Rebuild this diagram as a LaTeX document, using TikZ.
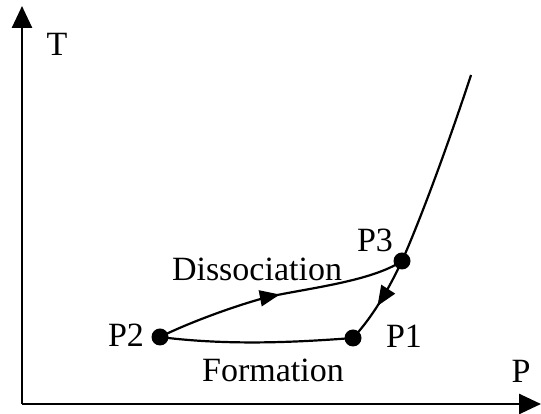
\documentclass[tikz,border=0pt]{standalone}
\usepackage{fontspec}
\setmainfont{Liberation Serif}
\usetikzlibrary{arrows.meta,decorations.markings}

\begin{document}
\begin{tikzpicture}[
    x=1pt,
    y=1pt,
    font=\fontsize{34}{40}\selectfont,
    axis/.style={
        draw,
        line width=2.6pt,
        -{Triangle[length=22pt,width=20pt]}
    },
    path line/.style={
        draw,
        line width=2.2pt
    },
    dot/.style={
        fill,
        circle,
        minimum size=17pt,
        inner sep=0pt
    },
    lbl/.style={
        anchor=base,
        inner sep=0pt
    },
    mid arrow/.style={
        postaction={decorate},
        decoration={
            markings,
            mark=at position #1 with {\arrow{Triangle[length=20pt,width=16pt]}}
        }
    }
]
    \useasboundingbox (0,0) rectangle (541,414);

    % axes
    \coordinate (origin) at (22,10);
    \coordinate (t_end) at (22,408);
    \coordinate (p_end) at (541,10);
    \draw[axis] (origin) -- (t_end);
    \draw[axis] (origin) -- (p_end);
    \node[lbl] (t_lbl) at (57,358) {T};
    \node[lbl] (p_lbl) at (521,31) {P};

    % states
    \node[dot] (P2) at (160,77) {};
    \node[dot] (P1) at (353,76) {};
    \node[dot] (P3) at (402,153) {};
    \coordinate (bend) at (270,117.5);
    \coordinate (top) at (471,339);

    % cycle
    \path[path line,mid arrow=0.5] (P2.center)
        .. controls (190,92) and (240,110) .. (bend)
        .. controls (310,126) and (372,133) .. (P3.center);
    \path[path line,mid arrow=0.56] (P3.center)
        .. controls (390,128) and (375,100) .. (P1.center);
    \path[path line] (P2.center)
        .. controls (230,68) and (300,72) .. (P1.center);
    \path[path line] (P3.center)
        .. controls (425,205) and (455,290) .. (top);

    % labels
    \node[lbl] at (126,67) {P2};
    \node[lbl] at (404,66) {P1};
    \node[lbl] at (375,162) {P3};
    \node[lbl] at (257,133) {Dissociation};
    \node[lbl] at (273,32) {Formation};
\end{tikzpicture}
\end{document}
